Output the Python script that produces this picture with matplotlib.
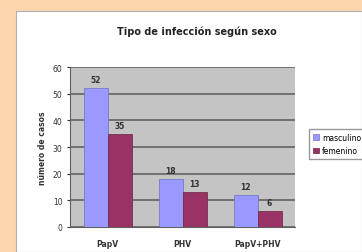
import matplotlib.pyplot as plt
import matplotlib.patches as mpatches
import numpy as np

# data
categories = ['PapV', 'PHV', 'PapV+PHV']
masculino = [52, 18, 12]
femenino = [35, 13, 6]
series_names = ['masculino', 'femenino']

fig = plt.figure(figsize=(3.62, 2.53), dpi=100)
fig.patch.set_facecolor('#FDD6AE')

# white chart panel (behind the axes)
panel = mpatches.Rectangle((16 / 362, 0), 1 - 16 / 362, 1 - 12 / 253,
                           transform=fig.transFigure, facecolor='white',
                           edgecolor='#B0B0B0', linewidth=0.8, zorder=-1)
fig.patches.append(panel)

ax = fig.add_axes([70 / 362, 1 - 228 / 253, 225 / 362, 160 / 253])
ax.set_zorder(2)
ax.set_facecolor('#C4C4C4')

x = np.arange(len(categories))
w = 0.32
b1 = ax.bar(x - w / 2, masculino, w, color='#9999FF', edgecolor='#7070C0',
            linewidth=0.5, zorder=3, label=series_names[0])
b2 = ax.bar(x + w / 2, femenino, w, color='#993366', edgecolor='#702040',
            linewidth=0.5, zorder=3, label=series_names[1])

for bars in (b1, b2):
    for r in bars:
        ax.text(r.get_x() + r.get_width() / 2, r.get_height() + 1.5,
                f"{int(r.get_height())}", ha='center', va='bottom',
                fontsize=5.5, fontweight='bold', color='#333333')

ax.set_xlim(-0.5, 2.5)
ax.set_ylim(0, 60)
ax.set_yticks(range(0, 61, 10))
ax.yaxis.grid(True, color='#707070', linewidth=1.4, zorder=1)
ax.set_axisbelow(True)
ax.set_xticks(x)
ax.set_xticklabels(categories, fontsize=5.5, fontweight='bold', color='#333333')
ax.tick_params(axis='y', labelsize=5.5, length=2, colors='#333333')
ax.tick_params(axis='x', length=0, pad=9)
for s in ['top', 'right']:
    ax.spines[s].set_visible(False)
ax.spines['left'].set_color('#606060')
ax.spines['bottom'].set_color('#606060')
ax.set_ylabel('número de casos', fontsize=5.5, fontweight='bold', color='#333333')

fig.text(197 / 362, 1 - 32 / 253, 'Tipo de infección según sexo', ha='center',
         va='center', fontsize=7, fontweight='bold', color='#222222')

leg = fig.legend(handles=[b1, b2], labels=series_names, loc='upper left',
                 bbox_to_anchor=(305 / 362, 1 - 126 / 253), fontsize=5.5,
                 frameon=True, fancybox=False, edgecolor='#808080',
                 handlelength=0.8, handleheight=0.8, borderpad=0.5,
                 labelspacing=0.6, handletextpad=0.4)
leg.set_zorder(3)

fig.savefig('out.png', dpi=100, facecolor=fig.get_facecolor())
